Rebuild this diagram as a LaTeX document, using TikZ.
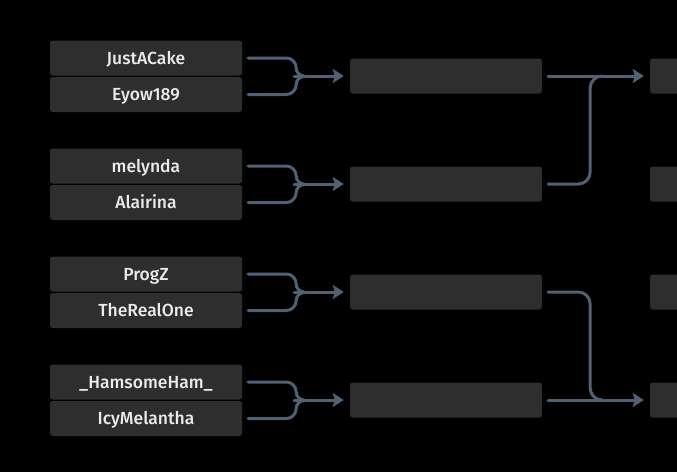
\documentclass[tikz,border=0pt]{standalone}
\usepackage{fontspec}
\setmainfont{Fira Sans}
\newfontfamily\namefont{Fira Sans Medium}
\usetikzlibrary{arrows.meta}
\definecolor{boxgray}{HTML}{2E2E2E}
\definecolor{linkblue}{HTML}{4F6172}
\definecolor{nametext}{HTML}{EBEBEB}
\tikzset{
  slot/.style={fill=boxgray, rounded corners=2.5pt, minimum width=192pt,
    minimum height=35pt, inner sep=0pt, text=nametext,
    text height=12pt, text depth=0pt,
    font=\namefont\fontsize{17.5pt}{17.5pt}\selectfont},
  link/.style={draw=linkblue, line width=3pt, line cap=round},
  tip/.style={-{Stealth[length=11pt,width=14pt,inset=2pt]}}
}
\begin{document}
\begin{tikzpicture}[x=1pt,y=-1pt]
  \useasboundingbox (0,0) rectangle (677,472);
  \fill[black] (0,0) rectangle (677,472);
  \clip (0,0) rectangle (677,472);
  % primo turno
  \foreach \i/\top/\bot [evaluate=\i as \yc using {76+108*(\i-1)}] in
      {1/JustACake/Eyow189, 2/melynda/Alairina,
       3/ProgZ/TheRealOne, 4/\_HamsomeHam\_/IcyMelantha}{
    \node[slot] (p\i a) at (146,\yc-18) {\top};
    \node[slot] (p\i b) at (146,\yc+18.5) {\bot};
    \node[slot] (m\i) at (446,\yc) {};
    \node[slot] (f\i) at (746,\yc) {};
    % graffe
    \draw[link] ([xshift=6pt]p\i a.east) -- ++(38,0)
      to[out=0,in=90] ++(10,10) to[out=-90,in=180] ++(8,8);
    \draw[link] ([xshift=6pt]p\i b.east) -- ++(38,0)
      to[out=0,in=-90] ++(10,-10) to[out=90,in=180] ++(8,-8);
    \draw[link,tip] ([xshift=52pt]p\i a.east |- m\i.west) -- ([xshift=-6pt]m\i.west);
  }
  % secondo turno
  \draw[link,tip] ([xshift=6pt]m1.east) -- ([xshift=-6pt]f1.west);
  \draw[link] ([xshift=6pt]m2.east) -- ++(30,0)
    to[out=0,in=-90] ++(12,-12) -- ++(0,-84) to[out=90,in=180] ++(12,-12);
  \draw[link] ([xshift=6pt]m3.east) -- ++(30,0)
    to[out=0,in=90] ++(12,12) -- ++(0,84) to[out=-90,in=180] ++(12,12);
  \draw[link,tip] ([xshift=6pt]m4.east) -- ([xshift=-6pt]f4.west);
\end{tikzpicture}
\end{document}
